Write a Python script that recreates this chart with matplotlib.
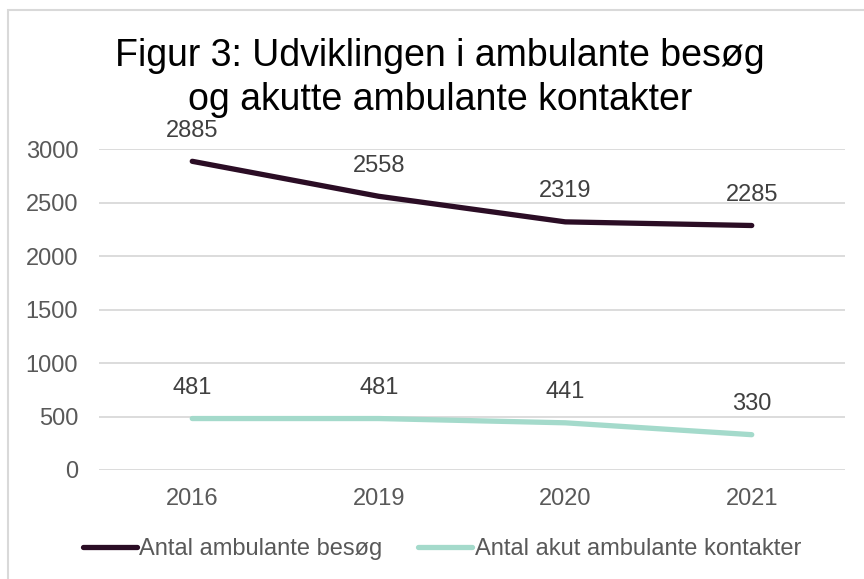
import matplotlib.pyplot as plt
from matplotlib.patches import Rectangle

plt.rcParams['font.family'] = ['Liberation Sans', 'DejaVu Sans']

years = ['2016', '2019', '2020', '2021']
besoeg = [2885, 2558, 2319, 2285]
akut = [481, 481, 441, 330]

fig = plt.figure(figsize=(8.64, 5.79), dpi=100)
ax = fig.add_axes([99 / 864, 1 - 470 / 579, 746 / 864, 321 / 579])

x = range(len(years))
ax.plot(x, besoeg, color='#2B0D25', lw=3.8, solid_capstyle='round',
        label='Antal ambulante besøg')
ax.plot(x, akut, color='#A4DACB', lw=3.8, solid_capstyle='round',
        label='Antal akut ambulante kontakter')

# data labels above each point
for series in (besoeg, akut):
    for xi, v in zip(x, series):
        ax.annotate(str(v), (xi, v), xytext=(0, 22), textcoords='offset points',
                    ha='center', va='center', fontsize=17, color='#404040')

ax.set_xlim(-0.5, len(years) - 0.5)
ax.set_ylim(0, 3000)
ax.set_yticks(range(0, 3001, 500))
ax.set_xticks(list(x))
ax.set_xticklabels(years)
ax.yaxis.grid(True, color='#D9D9D9', lw=1.3)
ax.set_axisbelow(True)
for s in ax.spines.values():
    s.set_visible(False)
ax.tick_params(length=0, labelsize=17, colors='#595959')
ax.tick_params(axis='x', pad=13)
ax.tick_params(axis='y', pad=15)

fig.text(440 / 864, 1 - 78 / 579, 'Figur 3: Udviklingen i ambulante besøg\nog akutte ambulante kontakter',
         ha='center', va='center', fontsize=27, color='black', linespacing=1.3)

leg = fig.legend(loc='center', bbox_to_anchor=(442 / 864, 1 - 549 / 579), ncol=2,
                 frameon=False, fontsize=17, handlelength=2.3, handletextpad=0.1,
                 columnspacing=1.5)
for t in leg.get_texts():
    t.set_color('#595959')

fig.patches.append(Rectangle((8 / 864, -0.1), 1.2, 1 - 10 / 579 + 0.1,
                             transform=fig.transFigure, fill=False,
                             edgecolor='#D9D9D9', lw=1.5))

fig.savefig('out.png', dpi=100)
